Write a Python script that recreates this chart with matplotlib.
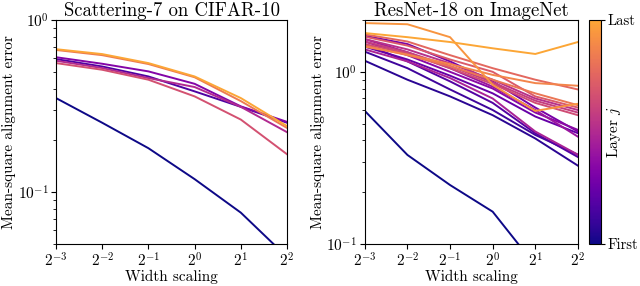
import numpy as np
import matplotlib
matplotlib.use("Agg")
from matplotlib import pyplot as plt
from matplotlib.colors import LinearSegmentedColormap, Normalize
from matplotlib.cm import ScalarMappable

plt.rcParams["font.family"] = "serif"
plt.rcParams["font.serif"] = ["cmr10"]
plt.rcParams["mathtext.fontset"] = "cm"
plt.rcParams["axes.formatter.use_mathtext"] = True
plt.rcParams["axes.unicode_minus"] = False

widths = [2**-3, 2**-2, 2**-1, 2**0, 2**1, 2**2]

# Scattering-7 on CIFAR-10, one row per layer (first -> last)
scat_err = [
    [0.352, 0.253, 0.180, 0.119, 0.076, 0.042],
    [0.593, 0.537, 0.470, 0.385, 0.313, 0.253],
    [0.608, 0.557, 0.503, 0.426, 0.315, 0.256],
    [0.580, 0.526, 0.460, 0.408, 0.313, 0.223],
    [0.562, 0.514, 0.450, 0.360, 0.264, 0.166],
    [0.670, 0.625, 0.555, 0.465, 0.338, 0.236],
    [0.677, 0.634, 0.562, 0.470, 0.352, 0.242],
]

# ResNet-18 on ImageNet, one row per layer (first -> last)
resnet_err = [
    [0.593, 0.329, 0.220, 0.154, 0.075, 0.045],
    [1.160, 0.900, 0.720, 0.560, 0.410, 0.285],
    [1.310, 1.050, 0.790, 0.600, 0.430, 0.330],
    [1.450, 1.150, 0.880, 0.660, 0.440, 0.320],
    [1.400, 1.180, 0.950, 0.750, 0.550, 0.440],
    [1.620, 1.450, 1.150, 0.880, 0.620, 0.450],
    [1.500, 1.250, 1.000, 0.800, 0.580, 0.460],
    [1.550, 1.300, 1.050, 0.820, 0.600, 0.420],
    [1.350, 1.150, 0.920, 0.700, 0.450, 0.330],
    [1.550, 1.350, 1.120, 0.900, 0.700, 0.600],
    [1.500, 1.300, 1.080, 0.870, 0.680, 0.580],
    [1.450, 1.280, 1.050, 0.850, 0.660, 0.560],
    [1.600, 1.420, 1.180, 1.000, 0.720, 0.620],
    [1.650, 1.500, 1.250, 1.050, 0.900, 0.790],
    [1.420, 1.250, 1.080, 0.900, 0.750, 0.640],
    [1.400, 1.260, 1.110, 0.960, 0.860, 0.830],
    [1.920, 1.890, 1.590, 0.840, 0.593, 0.652],
    [1.680, 1.590, 1.490, 1.370, 1.270, 1.490],
]

titles = ["Scattering-7 on CIFAR-10", "ResNet-18 on ImageNet"]
ylims = [(0.05, 1.0), (0.1, 2.0)]

base = plt.get_cmap("plasma")
cmap = LinearSegmentedColormap.from_list("plasma_cut", base(np.linspace(0, 0.8, 256)))

fig = plt.figure(figsize=(6.4, 2.86), dpi=100)
ax1 = fig.add_axes([0.0875, 0.147, 0.361, 0.783])
ax2 = fig.add_axes([0.570, 0.147, 0.333, 0.783])
cax = fig.add_axes([0.920, 0.147, 0.019, 0.783])

for ax, data, title, ylim in zip([ax1, ax2], [scat_err, resnet_err], titles, ylims):
    n = len(data)
    for i, row in enumerate(data):
        ax.plot(widths, row, color=cmap(i / (n - 1)), lw=1.4)
    ax.set_xscale("log", base=2)
    ax.set_yscale("log")
    ax.set_xlim(widths[0], widths[-1])
    ax.set_ylim(*ylim)
    ax.set_xticks(widths)
    ax.set_title(title, fontsize=13.5, pad=2)
    ax.set_xlabel("Width scaling", fontsize=11, labelpad=0)
    ax.set_ylabel("Mean-square alignment error", fontsize=11, labelpad=1)
    ax.tick_params(labelsize=11, pad=2)

cb = fig.colorbar(ScalarMappable(norm=Normalize(0, 1), cmap=cmap), cax=cax)
cb.set_ticks([0, 1])
cb.set_ticklabels(["First", "Last"])
cb.ax.tick_params(labelsize=10.5, pad=1.5, length=3)
cb.outline.set_linewidth(0.8)
cb.set_label("Layer $j$", fontsize=11, labelpad=-24)

fig.savefig("out.png", dpi=100)
